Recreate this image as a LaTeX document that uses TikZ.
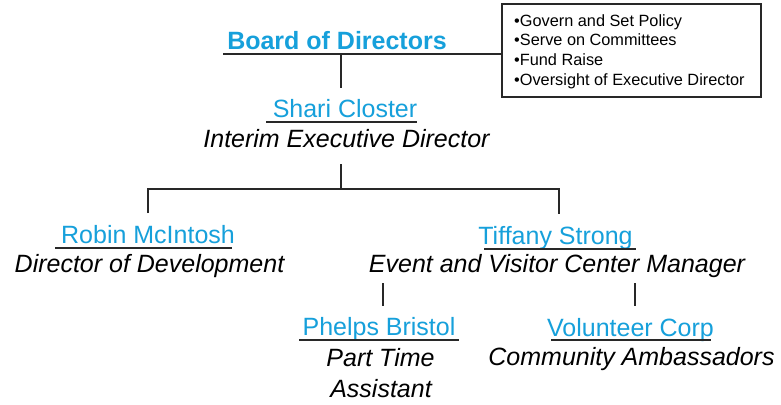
\documentclass[tikz,border=0pt]{standalone}
\usepackage{fontspec}
\setmainfont{Liberation Sans}
\definecolor{nameblue}{RGB}{22,160,219}
\definecolor{linegray}{RGB}{40,40,40}
\tikzset{
  x=1pt, y=-1pt,
  conn/.style={draw=linegray, line width=1.3pt},
  uline/.style={draw=linegray, line width=1.1pt},
  namelbl/.style={anchor=base, inner sep=0pt, text=nameblue, font=\fontsize{25}{30}\selectfont},
  rolelbl/.style={anchor=base, inner sep=0pt, text=black, font=\fontsize{25}{30}\selectfont\itshape},
  boardlbl/.style={anchor=base, inner sep=0pt, text=nameblue, font=\fontsize{25}{30}\selectfont\bfseries},
  boxline/.style={anchor=base west, inner sep=0pt, text=black, font=\fontsize{16.3}{19.5}\selectfont},
  infobox/.style={draw=linegray, line width=1.1pt, minimum width=259pt, minimum height=93pt, inner sep=0pt}
}
\begin{document}
\begin{tikzpicture}
\useasboundingbox[fill=white] (0,0) rectangle (781,404);

% info box
\node[infobox] (box) at (631.5,50.5) {};
\node[boxline] (b1) at (514,26.5) {•Govern and Set Policy};
\node[boxline] (b2) at (514,46) {•Serve on Committees};
\node[boxline] (b3) at (514,65.5) {•Fund Raise};
\node[boxline] (b4) at (514,85) {•Oversight of Executive Director};

% board
\node[boardlbl] (board) at (337,50) {Board of Directors};
\coordinate (bl) at (223,54);
\coordinate (bj) at (341,54);
\draw[conn] (bl) -- (bl -| box.west);

% Shari
\node[namelbl] (shari) at (345,117) {Shari Closter};
\node[rolelbl] (interim) at (346.5,147) {Interim Executive Director};
\coordinate (shu1) at (266,122); \coordinate (shu2) at (417,122);
\draw[uline] (shu1) -- (shu2);
\coordinate (sht) at (341,88);
\draw[conn] (bj) -- (sht);

% level 2
\coordinate (ib) at (341,164);
\coordinate (hj) at (341,189);
\coordinate (hl) at (148,189);
\coordinate (hr) at (559,189);
\coordinate (rt) at (148,213);
\coordinate (tt) at (559,214);
\draw[conn] (ib) -- (hj);
\draw[conn] (rt) -- (hl) -- (hr) -- (tt);

\node[namelbl] (robin) at (148,243) {Robin McIntosh};
\node[rolelbl] (dev) at (149.5,272) {Director of Development};
\coordinate (ru1) at (55,248); \coordinate (ru2) at (232,248);
\draw[uline] (ru1) -- (ru2);

\node[namelbl] (tiffany) at (555.5,244) {Tiffany Strong};
\node[rolelbl] (event) at (557,272) {Event and Visitor Center Manager};
\coordinate (tu1) at (484,249); \coordinate (tu2) at (636,249);
\draw[uline] (tu1) -- (tu2);

% level 3
\coordinate (pa) at (383,283); \coordinate (pb) at (383,306);
\coordinate (va) at (635,283); \coordinate (vb) at (635,306);
\draw[conn] (pa) -- (pb);
\draw[conn] (va) -- (vb);

\node[namelbl] (phelps) at (379,335) {Phelps Bristol};
\node[rolelbl] (pt) at (380.5,366) {Part Time};
\node[rolelbl] (asst) at (381,397) {Assistant};
\coordinate (pu1) at (299,340); \coordinate (pu2) at (459,340);
\draw[uline] (pu1) -- (pu2);

\node[namelbl] (vol) at (630.5,336) {Volunteer Corp};
\node[rolelbl] (comm) at (631.5,365) {Community Ambassadors};
\coordinate (vu1) at (551,340); \coordinate (vu2) at (711,340);
\draw[uline] (vu1) -- (vu2);
\end{tikzpicture}
\end{document}
